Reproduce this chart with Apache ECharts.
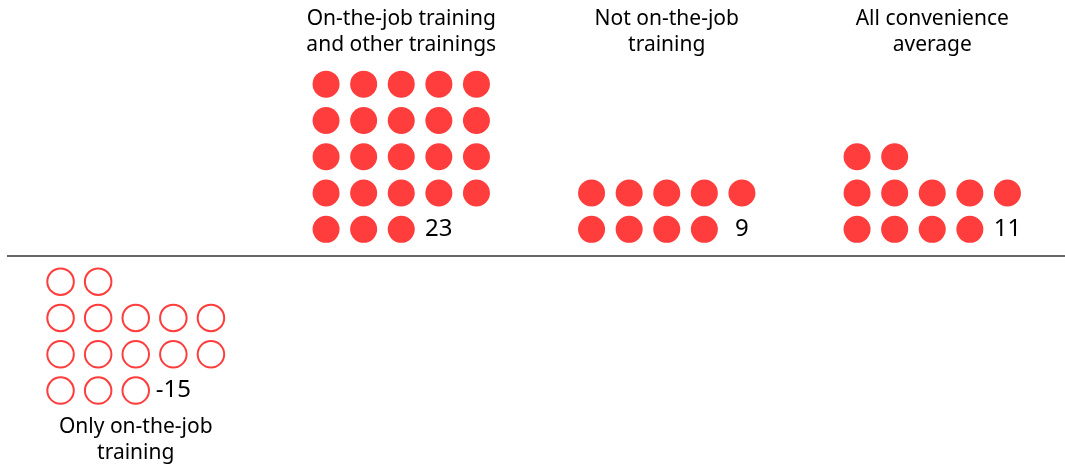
<!DOCTYPE html>
<html>
<head>
<meta charset="utf-8">
<script src="https://cdn.jsdelivr.net/npm/echarts@6/dist/echarts.min.js"></script>
<style>
html,body{margin:0;padding:0;background:#fff;}
#chart{width:1065px;height:466px;}
</style>
</head>
<body>
<div id="chart"></div>
<script>
// ---- data ----
const categories = [
  'Only on-the-job\ntraining',
  'On-the-job training\nand other trainings',
  'Not on-the-job\ntraining',
  'All convenience\naverage'
];
const values = [-15, 23, 9, 11];
// number of dots that share the row with the value label
const labelRowDots = [3, 3, 4, 4];

// ---- layout helpers (derived from data) ----
const PER_ROW = 5;
const COL_STEP = 0.1416;   // in category units
const ROW_INSET = 0.28;    // in row units

const filled = [], hollow = [], valueLabels = [];
values.forEach((v, i) => {
  const n = Math.abs(v);
  const sign = v < 0 ? -1 : 1;
  const lr = labelRowDots[i];
  const restRows = Math.ceil((n - lr) / PER_ROW);
  const totalRows = 1 + restRows;
  const rowToR = k => sign > 0 ? k + 1 : totalRows - k;
  const pts = [];
  for (let c = 0; c < lr; c++) pts.push([0, c]);
  let left = n - lr, k = 1;
  while (left > 0) {
    const cnt = Math.min(PER_ROW, left);
    for (let c = 0; c < cnt; c++) pts.push([k, c]);
    left -= cnt; k++;
  }
  pts.forEach(([kk, c]) => {
    const r = rowToR(kk);
    const p = [i + (c - 2) * COL_STEP, sign * (r - ROW_INSET)];
    (v < 0 ? hollow : filled).push(p);
  });
  const rl = rowToR(0);
  valueLabels.push({ value: [i + (lr - 2) * COL_STEP, sign * (rl - ROW_INSET)], label: String(v) });
});

const chart = echarts.init(document.getElementById('chart'));
const FONT = '"Noto Sans", "Open Sans", sans-serif';
const RED = '#ff3d3d';

chart.setOption({
  animation: false,
  backgroundColor: '#fff',
  grid: { left: 3, right: 0, top: 74, bottom: 56, containLabel: false },
  xAxis: [
    {
      type: 'category', position: 'top', data: categories,
      axisLine: { show: false, onZero: false }, axisTick: { show: false }, splitLine: { show: false },
      axisLabel: {
        interval: 0, margin: 16, fontSize: 21, lineHeight: 26, color: '#000', fontFamily: FONT,
        formatter: (val, idx) => values[idx] >= 0 ? val : ''
      }
    },
    {
      type: 'category', position: 'bottom', data: categories,
      axisLine: { show: false, onZero: false }, axisTick: { show: false }, splitLine: { show: false },
      axisLabel: {
        interval: 0, margin: 4, fontSize: 21, lineHeight: 26, color: '#000', fontFamily: FONT,
        formatter: (val, idx) => values[idx] < 0 ? val : ''
      }
    },
    { type: 'value', min: -0.5, max: 3.5, show: false }
  ],
  yAxis: { type: 'value', min: -4.256, max: 5.0, show: false },
  series: [
    {
      type: 'scatter', xAxisIndex: 2, data: filled, symbol: 'circle', symbolSize: 27,
      itemStyle: { color: RED, opacity: 1 },
      silent: true,
      markLine: {
        silent: true, symbol: 'none', label: { show: false },
        lineStyle: { color: '#666', width: 2, type: 'solid' },
        data: [[{ xAxis: -0.485, yAxis: 0 }, { xAxis: 3.5, yAxis: 0 }]]
      }
    },
    {
      type: 'scatter', xAxisIndex: 2, data: hollow, symbol: 'circle', symbolSize: 26.5,
      itemStyle: { color: '#fff', borderColor: RED, borderWidth: 2, opacity: 1 },
      silent: true
    },
    {
      type: 'scatter', xAxisIndex: 2, data: valueLabels, symbolSize: 1, silent: true,
      itemStyle: { color: 'transparent', opacity: 1 },
      label: {
        show: true, position: 'inside', fontSize: 24, color: '#000', opacity: 1, fontFamily: FONT,
        formatter: p => p.data.label
      }
    }
  ]
});
</script>
</body>
</html>
